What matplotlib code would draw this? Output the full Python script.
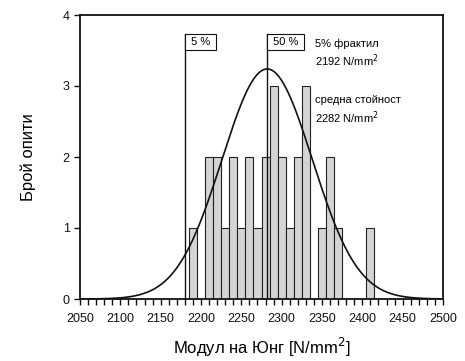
import numpy as np
import matplotlib
matplotlib.use("Agg")
import matplotlib.pyplot as plt
from matplotlib.ticker import MultipleLocator

plt.rcParams['font.family'] = ['Liberation Sans', 'DejaVu Sans']

# Histogram data (bin centres and counts)
bin_centers = [2190, 2210, 2220, 2230, 2240, 2250, 2260, 2270, 2280,
               2290, 2300, 2310, 2320, 2330, 2350, 2360, 2370, 2410]
counts = [1, 2, 2, 1, 2, 1, 2, 1, 2, 3, 2, 1, 2, 3, 1, 2, 1, 1]
bin_width = 10

# Fitted normal curve parameters
mean_value = 2282
std_value = 56
curve_peak = 3.24

# Marker lines
line_5pct = 2180
line_50pct = 2282
line_top = 3.73
marker_labels = ["5 %", "50 %"]

x_ticks = [2050, 2100, 2150, 2200, 2250, 2300, 2350, 2400, 2450, 2500]
y_ticks = [0, 1, 2, 3, 4]

fig = plt.figure(figsize=(4.65, 3.61), dpi=100)
ax = fig.add_axes([80/465, 62/361, 363/465, 284/361])

ax.bar(bin_centers, counts, width=bin_width, color='#d4d4d4',
       edgecolor='#222222', linewidth=0.8, zorder=2)

xs = np.linspace(2050, 2500, 600)
ys = curve_peak * np.exp(-0.5 * ((xs - mean_value) / std_value) ** 2)
ax.plot(xs, ys, color='#111111', linewidth=1.2, zorder=4)

for xv, lab in zip([line_5pct, line_50pct], marker_labels):
    ax.plot([xv, xv], [0, line_top], color='#111111', linewidth=1.0, zorder=3)
    ax.annotate(" " + lab + " ", xy=(xv, line_top), xytext=(2.0, -2.0),
                textcoords='offset points', fontsize=8, ha='left', va='top',
                bbox=dict(boxstyle='square,pad=0.25', facecolor='white',
                          edgecolor='#111111', linewidth=0.8), zorder=5)

ax.text(2341, 3.59, "5% фрактил", fontsize=8, ha='left', va='center')
ax.text(2341, 3.35, "2192 N/mm$^2$", fontsize=8, ha='left', va='center')
ax.text(2341, 2.8, "средна стойност", fontsize=8, ha='left', va='center')
ax.text(2341, 2.55, "2282 N/mm$^2$", fontsize=8, ha='left', va='center')

ax.set_xlim(2050, 2500)
ax.set_ylim(0, 4)
ax.set_xticks(x_ticks)
ax.xaxis.set_minor_locator(MultipleLocator(10))
ax.set_yticks(y_ticks)
ax.tick_params(axis='both', which='both', direction='out', length=4,
               width=1.0, labelsize=9, colors='#111111')
ax.tick_params(axis='x', pad=6)
for s in ax.spines.values():
    s.set_linewidth(1.3)
    s.set_color('#111111')

ax.set_xlabel("Модул на Юнг [N/mm$^2$]", fontsize=12, labelpad=8)
ax.set_ylabel("Брой опити", fontsize=12, labelpad=19)

fig.savefig("out.png", dpi=100)
